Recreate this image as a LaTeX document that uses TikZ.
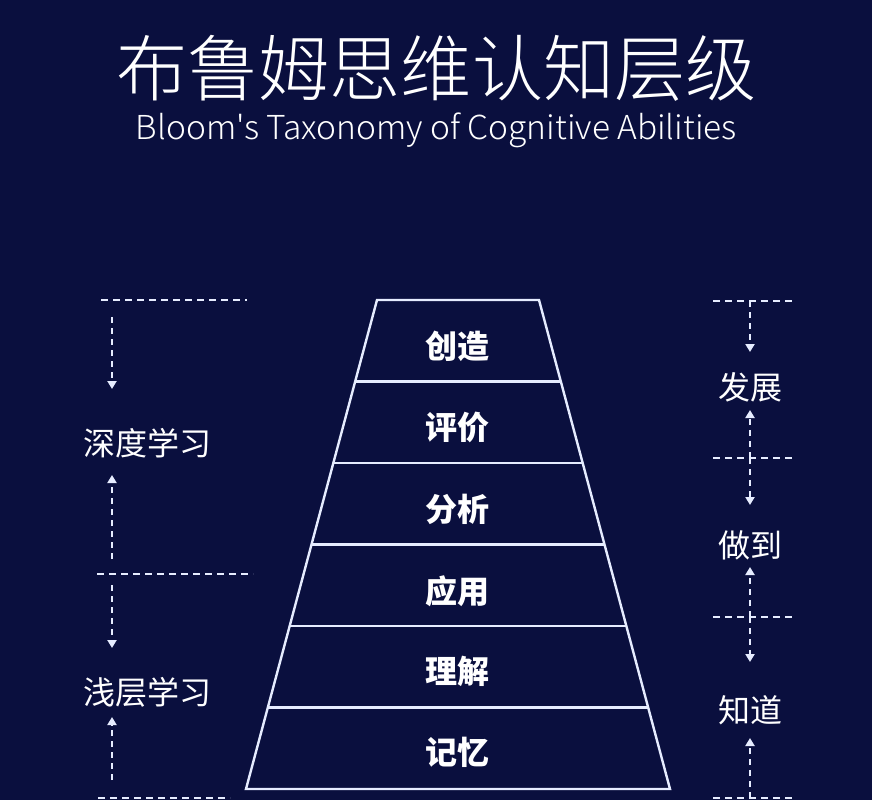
\documentclass[tikz,border=0pt]{standalone}
\usepackage{fontspec}
\usepackage{graphicx}
\usetikzlibrary{arrows.meta,calc}
\newfontfamily\cjk{Noto Sans CJK SC}
\newfontfamily\cjklight{Noto Sans CJK SC Light}
\definecolor{bg}{HTML}{0A0F3E}
\definecolor{ln}{HTML}{E6ECFF}
\begin{document}
\begin{tikzpicture}[x=1pt,y=-1pt,
  dline/.style={ln, line width=2.1pt, dash pattern=on 7pt off 5pt},
  darrow/.style={ln, line width=2.1pt, dash pattern=on 6pt off 5pt, -{Triangle[width=9pt,length=8pt]}},
  side/.style={text=white, font=\cjk\fontsize{32}{32}\selectfont, inner sep=0pt},
  lvl/.style={text=white, font=\cjk\bfseries\fontsize{32}{32}\selectfont, inner sep=0pt},
  pyr/.style={ln, line width=2.4pt, line join=miter}]
\fill[bg] (0,0) rectangle (872,800);
\useasboundingbox (0,0) rectangle (872,800);
% titles
\node[inner sep=0pt, text=white, font=\cjklight\fontsize{72}{72}\selectfont] (title) at (436.5,68.5) {\resizebox{641pt}{\height}{布鲁姆思维认知层级}};
\node[inner sep=0pt, text=white, font=\cjklight\fontsize{33}{33}\selectfont, anchor=base] (sub) at (436.5,139) {\resizebox{601pt}{\height}{Bloom's Taxonomy of Cognitive Abilities}};
% pyramid
\coordinate (TL) at (377,300);
\coordinate (TR) at (539,300);
\coordinate (BL) at (246,789);
\coordinate (BR) at (670,789);
\draw[pyr] (TL) -- (TR) -- (BR) -- (BL) -- cycle;
\foreach \k in {1,...,5}{
  \draw[pyr] ($(TL)!\k/6!(BL)$) -- ($(TR)!\k/6!(BR)$);
}
\node[lvl] (l6) at (457,346.5) {创造};
\node[lvl] (l5) at (457,427) {评价};
\node[lvl] (l4) at (457,509) {分析};
\node[lvl] (l3) at (457,591) {应用};
\node[lvl] (l2) at (457,671) {理解};
\node[lvl] (l1) at (457,752) {记忆};
% left side
\coordinate (LA1) at (101,300); \coordinate (LA2) at (247,300);
\coordinate (LB1) at (97,574);  \coordinate (LB2) at (253,574);
\coordinate (LC1) at (98,798);  \coordinate (LC2) at (230,798);
\draw[dline] (LA1) -- (LA2);
\draw[dline] (LB1) -- (LB2);
\draw[dline] (LC1) -- (LC2);
\node[side] (deep) at (147.5,443) {深度学习};
\node[side] (shallow) at (147.5,692) {浅层学习};
\coordinate (a1s) at (112,317); \coordinate (a1e) at (112,389);
\coordinate (a2s) at (112,559); \coordinate (a2e) at (112,475);
\coordinate (a3s) at (112,585); \coordinate (a3e) at (112,648);
\coordinate (a4s) at (112,780); \coordinate (a4e) at (112,717);
\draw[darrow] (a1s) -- (a1e);
\draw[darrow] (a2s) -- (a2e);
\draw[darrow] (a3s) -- (a3e);
\draw[darrow] (a4s) -- (a4e);
% right side
\coordinate (RA1) at (713,301); \coordinate (RA2) at (796,301);
\coordinate (RB1) at (713,458); \coordinate (RB2) at (796,458);
\coordinate (RC1) at (713,617); \coordinate (RC2) at (796,617);
\coordinate (RD1) at (713,798); \coordinate (RD2) at (796,798);
\draw[dline] (RA1) -- (RA2);
\draw[dline] (RB1) -- (RB2);
\draw[dline] (RC1) -- (RC2);
\draw[dline] (RD1) -- (RD2);
\node[side] (fz) at (750,387) {发展};
\node[side] (zd) at (750,545) {做到};
\node[side] (zh) at (750,710) {知道};
\coordinate (r1s) at (750,301); \coordinate (r1e) at (750,352);
\coordinate (r2s) at (750,458); \coordinate (r2e) at (750,410);
\coordinate (r3s) at (750,458); \coordinate (r3e) at (750,505);
\coordinate (r4s) at (750,617); \coordinate (r4e) at (750,567);
\coordinate (r5s) at (750,617); \coordinate (r5e) at (750,662);
\coordinate (r6s) at (750,798); \coordinate (r6e) at (750,738);
\foreach \i in {1,...,6}{ \draw[darrow] (r\i s) -- (r\i e); }
\end{tikzpicture}
\end{document}
